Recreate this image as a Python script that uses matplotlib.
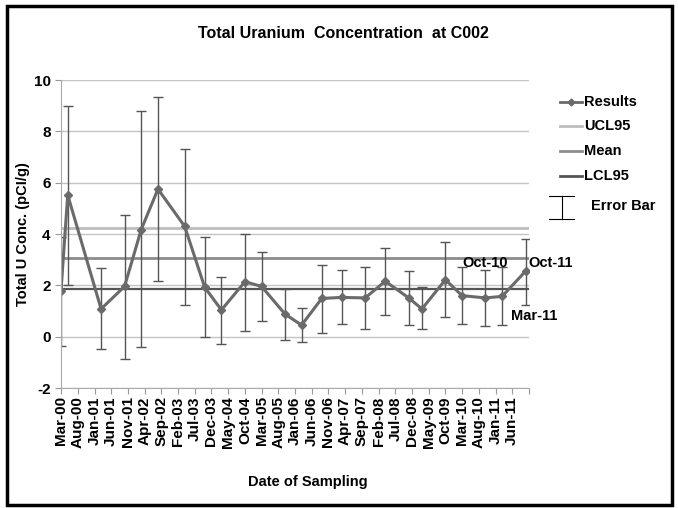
import pandas as pd
import matplotlib
matplotlib.use("Agg")
import matplotlib.pyplot as plt
from matplotlib.lines import Line2D
from matplotlib.patches import Rectangle

plt.rcParams['font.family'] = ['Liberation Sans', 'DejaVu Sans']
plt.rcParams['font.weight'] = 'bold'
plt.rcParams['axes.unicode_minus'] = False

# sampling dates and results (pCi/g)
dates = ["2000-03", "2000-05", "2001-03", "2001-10", "2002-03", "2002-08",
         "2003-04", "2003-10", "2004-03", "2004-10", "2005-03", "2005-10",
         "2006-03", "2006-09", "2007-03", "2007-10", "2008-04", "2008-11",
         "2009-03", "2009-10", "2010-03", "2010-10", "2011-03", "2011-10"]
results = [1.79, 5.52, 1.08, 1.96, 4.17, 5.75, 4.30, 1.92, 1.04, 2.14, 1.96, 0.88,
           0.45, 1.49, 1.53, 1.51, 2.16, 1.51, 1.08, 2.22, 1.60, 1.51, 1.57, 2.55]
err_top = [3.87, 9.00, 2.68, 4.75, 8.78, 9.35, 7.31, 3.90, 2.34, 4.00, 3.31, 1.86,
           1.12, 2.79, 2.60, 2.73, 3.44, 2.55, 1.92, 3.68, 2.70, 2.60, 2.70, 3.79]
err_bot = [-0.35, 2.03, -0.48, -0.87, -0.42, 2.18, 1.23, -0.03, -0.28, 0.21, 0.62, -0.13,
           -0.20, 0.13, 0.49, 0.29, 0.86, 0.47, 0.29, 0.78, 0.49, 0.43, 0.47, 1.23]
ucl95 = 4.22
mean = 3.07
lcl95 = 1.87

x = pd.to_datetime(dates)
lower = [r - b for r, b in zip(results, err_bot)]
upper = [t - r for r, t in zip(results, err_top)]

fig = plt.figure(figsize=(6.78, 5.08), dpi=100)
ax = fig.add_axes([0.090, 0.2362, 0.6902, 0.6063])

ticks = pd.date_range("2000-03-01", periods=29, freq="5MS")
ax.set_xlim(ticks[0], ticks[-1])
ax.set_ylim(-2, 10)
ax.set_yticks([-2, 0, 2, 4, 6, 8, 10])
ax.grid(axis='y', color='#c4c4c4', linewidth=1)
ax.set_axisbelow(True)

ax.axhline(ucl95, color='#bdbdbd', linewidth=2)
ax.axhline(mean, color='#8c8c8c', linewidth=2)
ax.axhline(lcl95, color='#555555', linewidth=1.6)

ax.errorbar(x, results, yerr=[lower, upper], fmt='none', ecolor='#555555',
            elinewidth=1, capsize=3.5, capthick=1)
ax.plot(x, results, color='#6a6a6a', linewidth=2.2, marker='D', markersize=4.5)

ax.set_xticks(ticks)
ax.set_xticklabels([t.strftime('%b-%y') for t in ticks[:-1]] + [''],
                   rotation=90, fontsize=11, fontweight='bold')
ax.tick_params(axis='y', labelsize=11, length=4, color='#999999')
ax.tick_params(axis='x', length=4, color='#999999', pad=2)
for s in ['top', 'right']:
    ax.spines[s].set_visible(False)
for s in ['left', 'bottom']:
    ax.spines[s].set_color('#aaaaaa')

ax.annotate('Oct-10', (x[21], results[21]), xytext=(0, 25), textcoords='offset points',
            ha='center', va='center', fontsize=10.5, fontweight='bold')
ax.annotate('Mar-11', (x[22], results[22]), xytext=(23, -14), textcoords='offset points',
            ha='center', va='center', fontsize=10.5, fontweight='bold')
ax.annotate('Oct-11', (x[23], results[23]), xytext=(2, 6), textcoords='offset points',
            ha='left', va='center', fontsize=10.5, fontweight='bold')

fig.text(0.506, 0.935, 'Total Uranium  Concentration  at C002', ha='center', va='center',
         fontsize=11.5, fontweight='bold')
ax.set_ylabel('Total U Conc. (pCI/g)', fontsize=10.5, fontweight='bold')
ax.yaxis.set_label_coords(-0.066, 0.5)
fig.text(0.454, 0.051, 'Date of Sampling', ha='center', va='center',
         fontsize=10.5, fontweight='bold')

# legend drawn by hand, to the right of the plot
W, H = 678.0, 508.0
leg = [('Results', '#6a6a6a', 'D'), ('UCL95', '#bdbdbd', None),
       ('Mean', '#8c8c8c', None), ('LCL95', '#555555', None)]
for i, (name, col, mk) in enumerate(leg):
    yy = 1 - (101.7 + 24.7 * i) / H
    if mk is None:
        fig.add_artist(Line2D([560 / W, 582 / W], [yy, yy], color=col, linewidth=2))
    else:
        fig.add_artist(Line2D([560 / W, 571 / W, 582 / W], [yy, yy, yy], color=col,
                              linewidth=2, marker=mk, markersize=3.5, markevery=[1]))
    fig.text(584 / W, yy, name, ha='left', va='center', fontsize=10.5, fontweight='bold')

xc = 562 / W
yt, yb = 1 - 196 / H, 1 - 219 / H
fig.add_artist(Line2D([xc, xc], [yt, yb], color='black', linewidth=0.8))
fig.add_artist(Line2D([549 / W, 574 / W], [yt, yt], color='black', linewidth=0.8))
fig.add_artist(Line2D([549 / W, 574 / W], [yb, yb], color='black', linewidth=0.8))
fig.text(591 / W, 1 - 206 / H, 'Error Bar', ha='left', va='center', fontsize=10.5, fontweight='bold')

fig.add_artist(Rectangle((7 / W, 3 / H), 665 / W, 499 / H, fill=False,
                         edgecolor='black', linewidth=2.5, transform=fig.transFigure))

fig.savefig('out.png', dpi=100)
